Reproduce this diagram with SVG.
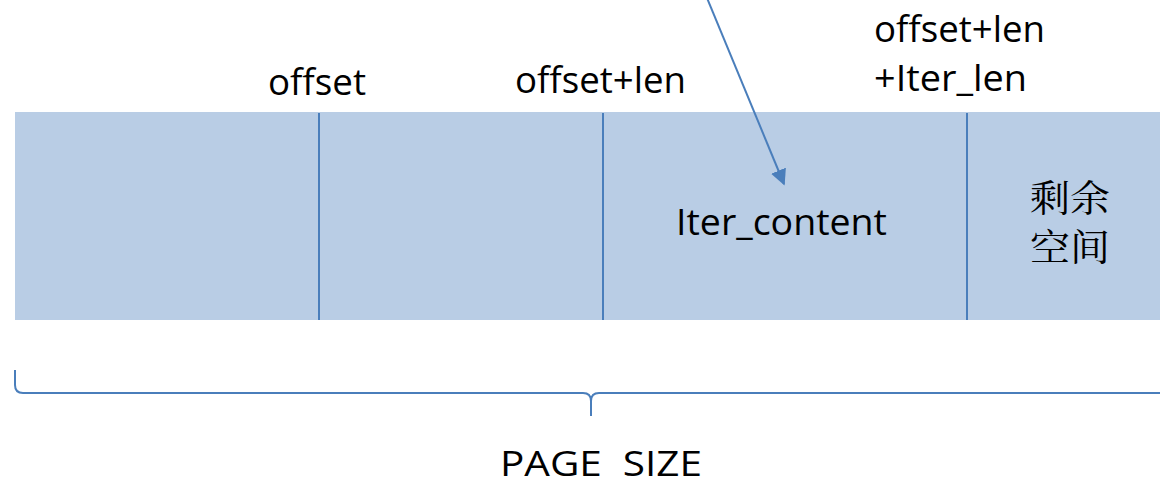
<svg xmlns="http://www.w3.org/2000/svg" width="1160" height="485" viewBox="0 0 1160 485">
<style>
.t{font-family:"Open Sans","Liberation Sans",sans-serif;font-size:37px;fill:#000}
.ps{font-size:34px}
.cjk{font-family:"Noto Serif CJK SC","Noto Sans CJK SC",serif;font-size:37px;fill:#000}
.div{stroke:#4a7ebb;stroke-width:2;fill:none}
.conn{stroke:#4a7ebb;stroke-width:2;fill:none}
</style>
<defs>
<marker id="ah" viewBox="0 0 10 10" refX="9" refY="5" markerWidth="8" markerHeight="8" orient="auto" markerUnits="strokeWidth">
<path d="M0,0 L10,5 L0,10 z" fill="#4a7ebb"/>
</marker>
</defs>
<rect width="1160" height="485" fill="#fff"/>
<g id="page">
<rect x="15" y="112" width="1145" height="208" fill="#b9cde5"/>
<line class="div" x1="319" y1="113" x2="319" y2="320"/>
<line class="div" x1="603" y1="113" x2="603" y2="320"/>
<line class="div" x1="967" y1="113" x2="967" y2="320"/>
</g>
<g id="label-offset"><text class="t" x="268" y="95" textLength="98" lengthAdjust="spacingAndGlyphs">offset</text></g>
<g id="label-offset-len"><text class="t" x="515" y="93" textLength="171" lengthAdjust="spacingAndGlyphs">offset+len</text></g>
<g id="label-offset-len-iter">
<text class="t" x="874" y="42" textLength="171" lengthAdjust="spacingAndGlyphs">offset+len</text>
<text class="t" x="874" y="91" textLength="153" lengthAdjust="spacingAndGlyphs">+Iter_len</text>
</g>
<g id="iter-content"><text class="t" x="676" y="235" textLength="211" lengthAdjust="spacingAndGlyphs">Iter_content</text></g>
<g id="remaining">
<text class="cjk" x="1030" y="212" textLength="80" lengthAdjust="spacingAndGlyphs">剩余</text>
<text class="cjk" x="1030" y="261" textLength="80" lengthAdjust="spacingAndGlyphs">空间</text>
</g>
<g id="page-size"><text class="t ps" x="500" y="476" textLength="202" lengthAdjust="spacingAndGlyphs" xml:space="preserve">PAGE  SIZE</text></g>
<g id="connectors">
<line class="conn" x1="707" y1="-2" x2="784" y2="184" marker-end="url(#ah)"/>
<path class="conn" d="M15,370 L15,385 Q15,393 23,393 L583,393 Q591,393 591,401 L591,416 M591,401 Q591,393 599,393 L1160,393"/>
</g>
</svg>
